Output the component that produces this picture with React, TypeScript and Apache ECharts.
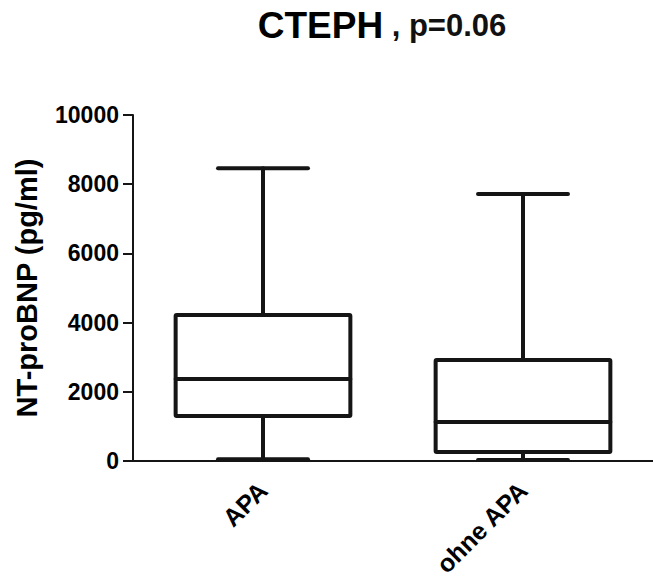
import React, { useEffect, useRef } from "react";
import * as echarts from "echarts";

const categories = ["APA", "ohne APA"];
const whiskerMin = [50, 30];
const quartile1 = [1300, 260];
const medians = [2370, 1130];
const quartile3 = [4220, 2920];
const whiskerMax = [8460, 7720];
const yTicks = { min: 0, max: 10000, interval: 2000 };

const INK = "#151515";
const FONT = "'Liberation Sans', Arial, sans-serif";

export default function App() {
  const ref = useRef<HTMLDivElement>(null);
  useEffect(() => {
    document.body.style.margin = "0";
    if (!ref.current) return;
    const chart = echarts.init(ref.current, undefined, { renderer: "svg" });
    const data = categories.map((_, i) => [
      i,
      whiskerMin[i],
      quartile1[i],
      medians[i],
      quartile3[i],
      whiskerMax[i],
    ]);
    chart.setOption({
      animation: false,
      backgroundColor: "#ffffff",
      title: {
        text: "{a|CTEPH}{b| , p=0.06}",
        left: 377,
        textAlign: "center",
        top: 2,
        textStyle: {
          rich: {
            a: { fontSize: 37, fontWeight: "bold", color: "#000", fontFamily: FONT },
            b: { fontSize: 31, fontWeight: "bold", color: "#111", fontFamily: FONT },
          },
        },
      },
      grid: { left: 133, top: 115, height: 346, width: 527 },
      xAxis: {
        type: "category",
        data: categories,
        axisLine: { lineStyle: { color: INK, width: 2 } },
        axisTick: { alignWithLabel: true, length: 11, lineStyle: { color: INK, width: 2 } },
        axisLabel: {
          rotate: 45,
          margin: 25,
          color: "#000",
          fontSize: 25,
          fontWeight: "bold",
          fontFamily: FONT,
        },
        splitLine: { show: false },
      },
      yAxis: {
        type: "value",
        min: yTicks.min,
        max: yTicks.max,
        interval: yTicks.interval,
        name: "NT-proBNP (pg/ml)",
        nameLocation: "middle",
        nameGap: 92,
        nameTextStyle: { color: "#000", fontSize: 29, fontWeight: "bold", fontFamily: FONT },
        axisLine: { show: true, lineStyle: { color: INK, width: 2 } },
        axisTick: { show: true, length: 10, lineStyle: { color: INK, width: 2 } },
        axisLabel: {
          color: "#000",
          fontSize: 23,
          fontWeight: "bold",
          fontFamily: FONT,
          margin: 14,
          formatter: (v: number) => String(v),
        },
        splitLine: { show: false },
      },
      series: [
        {
          type: "custom",
          data,
          encode: { x: 0, y: [1, 2, 3, 4, 5] },
          renderItem: (params: any, api: any) => {
            const idx = api.value(0);
            const pMin = api.coord([idx, api.value(1)]);
            const pQ1 = api.coord([idx, api.value(2)]);
            const pMed = api.coord([idx, api.value(3)]);
            const pQ3 = api.coord([idx, api.value(4)]);
            const pMax = api.coord([idx, api.value(5)]);
            const band = api.size([1, 0])[0];
            const cx = pMed[0];
            const hw = band * 0.336;
            const cw = band * 0.173;
            const ls = { stroke: INK, lineWidth: 4, lineCap: "round", fill: "none" };
            return {
              type: "group",
              children: [
                { type: "line", shape: { x1: cx, y1: pQ3[1], x2: cx, y2: pMax[1] }, style: ls },
                { type: "line", shape: { x1: cx, y1: pQ1[1], x2: cx, y2: pMin[1] }, style: ls },
                { type: "line", shape: { x1: cx - cw, y1: pMax[1], x2: cx + cw, y2: pMax[1] }, style: ls },
                { type: "line", shape: { x1: cx - cw, y1: pMin[1], x2: cx + cw, y2: pMin[1] }, style: ls },
                {
                  type: "rect",
                  shape: { x: cx - hw, y: pQ3[1], width: hw * 2, height: pQ1[1] - pQ3[1], r: 1 },
                  style: { stroke: INK, lineWidth: 4, fill: "#ffffff", lineJoin: "round" },
                },
                { type: "line", shape: { x1: cx - hw, y1: pMed[1], x2: cx + hw, y2: pMed[1] }, style: ls },
              ],
            };
          },
        },
      ],
    });
    return () => chart.dispose();
  }, []);
  return <div ref={ref} style={{ width: 653, height: 584 }} />;
}
